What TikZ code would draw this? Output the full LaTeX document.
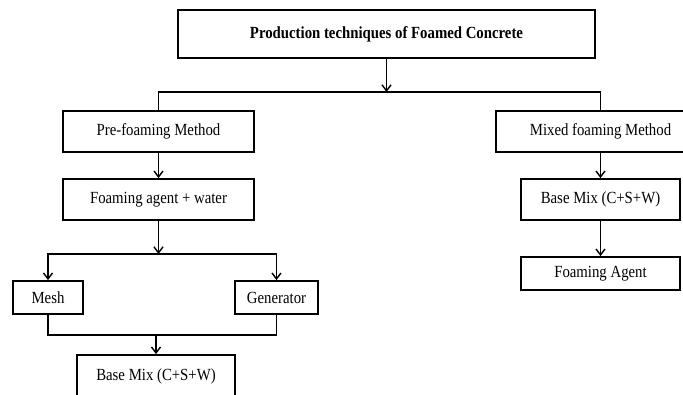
\documentclass[tikz,border=0pt]{standalone}
\usepackage{fontspec}
\setmainfont{Liberation Serif}[FakeStretch=0.87]
\usetikzlibrary{arrows.meta}
\begin{document}
\begin{tikzpicture}[x=1pt,y=-1pt,
  blk/.style={draw, line width=1.7pt, inner sep=0pt, font=\fontsize{17}{20}\selectfont},
  link/.style={line width=1.4pt},
  flow/.style={link, -{Straight Barb[length=6pt,width=9pt]}}]
\useasboundingbox (0,0) rectangle (683,394);
\clip (0,0) rectangle (683,394);

\node (title) [blk, minimum width=417, minimum height=48, font=\fontsize{17}{20}\selectfont\bfseries] at (386.5,34) {Production techniques of Foamed Concrete};

\node (pre) [blk, minimum width=191, minimum height=41] at (158.5,131.5) {Pre-foaming Method};
\node (agent) [blk, minimum width=191, minimum height=41] at (158.5,199.5) {Foaming agent + water};
\node (mesh) [blk, minimum width=70, minimum height=33] at (48,297.5) {Mesh};
\node (gen) [blk, minimum width=83, minimum height=33] at (276.5,297.5) {Generator};
\node (basel) [blk, minimum width=158, minimum height=43] at (156,376.5) {Base Mix (C+S+W)};

\node (mixed) [blk, minimum width=209, minimum height=41] at (600.5,131.5) {Mixed foaming Method};
\node (baser) [blk, minimum width=159, minimum height=41] at (600.5,199.5) {Base Mix (C+S+W)};
\node (foam) [blk, minimum width=159, minimum height=33] at (600.5,273.5) {Foaming Agent};

\coordinate (topbus) at (386.5,92);
\coordinate (midbus) at (158.5,254);
\coordinate (lowbus) at (156,335);

\draw[flow] (title.south) -- (topbus);
\draw[link] (pre.north) |- (topbus) -| (mixed.north);

\draw[flow] (pre.south) -- (agent.north);
\draw[flow] (agent.south) -- (midbus);
\draw[flow] (midbus) -| (mesh.north);
\draw[flow] (midbus) -| (gen.north);
\draw[link] (mesh.south) |- (lowbus) -| (gen.south);
\draw[flow] (lowbus) -- (basel.north);

\draw[flow] (mixed.south) -- (baser.north);
\draw[flow] (baser.south) -- (foam.north);
\end{tikzpicture}
\end{document}
